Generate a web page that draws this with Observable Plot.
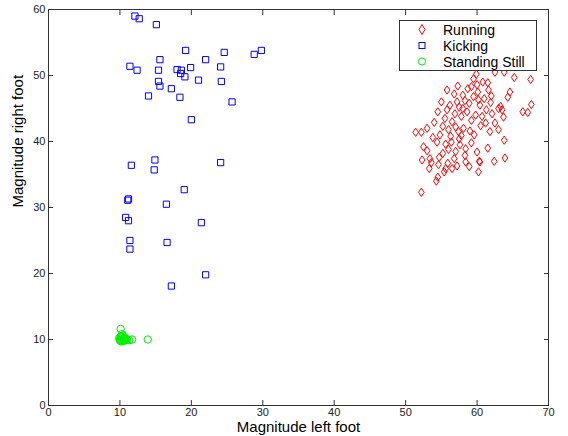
<!DOCTYPE html>
<html>
<head>
<meta charset="utf-8">
<script src="https://cdn.jsdelivr.net/npm/d3@7"></script>
<script src="https://cdn.jsdelivr.net/npm/@observablehq/plot@0.6"></script>
<style>
  html, body { margin: 0; padding: 0; background: #fff; }
  #wrap { position: relative; width: 568px; height: 436px; font-family: "Liberation Sans", Helvetica, Arial, sans-serif; }
  #legend { position: absolute; left: 399px; top: 20px; width: 138px; height: 51px; border: 1px solid #333; background: #fff; box-sizing: border-box; }
  #legend .row { position: absolute; left: 0; height: 16px; font-size: 14px; line-height: 16px; color: #000; white-space: nowrap; }
  #legend svg { position: absolute; left: 16px; top: 1.5px; }
  #legend span { position: absolute; left: 43px; top: 0; line-height: 16px; }
</style>
</head>
<body>
<div id="wrap"><div id="legend"></div></div>
<script>
const seriesNames = ["Running", "Kicking", "Standing Still"];
const seriesColors = ["#ff0000", "#0000ff", "#00ee00"];
const xTicks = [0, 10, 20, 30, 40, 50, 60, 70];
const yTicks = [0, 10, 20, 30, 40, 50, 60];
const xLabel = "Magnitude left foot";
const yLabel = "Magnitude right foot";

const runningX = [59.9,59.2,62.5,63.8,65.2,67.5,64.6,64.3,63.3,63.5,63.0,66.4,67.1,67.6,62.5,63.7,63.8,63.9,62.4,60.4,60.2,51.4,52.2,54.4,53.0,52.3,53.4,53.3,54.5,54.3,52.2,58.4,59.2,58.3,58.4,60.3,54.7,55.6,55.4,56.5,56.8,57.5,55.6,54.0,56.8,
  55.5,55.8,56.2,56.5,56.9,57.2,57.5,57.8,58.0,58.3,58.6,58.9,59.2,59.5,59.8,60.1,60.4,60.7,61.0,61.3,61.6,61.9,60.0,58.7,57.0,56.0,57.4,58.1,55.2,54.8,56.3,57.8,59.0,60.5,61.2,62.1,62.0,60.8,59.5,61.5,57.0,56.0,55.2,57.6,56.4,53.8,54.6,53.6,55.9,52.5,57.2,58.9,60.0,61.5,59.6,53.0,55.0,54.5,55.8,57.3,58.0,60.2,61.8,63.0];
const runningY = [50.2,48.3,50.5,50.5,49.7,49.4,47.5,46.7,45.3,44.8,45.0,44.5,44.4,45.6,42.8,43.7,40.2,37.5,37.0,36.9,35.4,41.4,41.4,39.9,38.6,37.2,37.4,35.9,34.6,34.0,32.3,38.9,39.8,37.9,36.9,37.0,37.6,35.9,35.4,35.9,37.4,40.4,39.6,42.9,47.2,
  43.5,44.8,45.5,43.0,44.2,46.0,45.2,43.8,47.0,46.2,44.5,45.8,43.2,46.8,44.0,47.5,45.5,43.8,46.5,44.8,47.8,45.9,48.6,48.0,42.2,41.8,41.5,42.0,42.3,41.0,40.8,40.9,41.6,42.4,42.8,44.2,46.9,49.0,49.5,48.9,38.5,38.8,38.2,39.5,39.9,40.6,36.5,36.8,36.7,39.2,36.3,36.2,38.4,39.0,41.0,42.0,46.0,44.5,47.8,48.4,45.0,46.3,41.5,41.8];

const kickingX = [12.1,12.7,15.1,19.2,24.6,28.8,29.8,15.6,22.0,11.4,12.4,15.4,18.0,18.6,19.9,24.1,18.5,19.1,15.4,21.0,24.2,15.6,17.2,14.0,18.4,25.7,20.0,
  11.6,14.9,14.8,24.1,19.0,11.1,11.2,16.5,10.8,11.2,21.4,11.4,11.4,16.6,22.0,17.2];
const kickingY = [59.0,58.6,57.7,53.8,53.5,53.2,53.8,52.4,52.4,51.4,50.8,50.8,50.9,50.8,51.2,51.3,50.3,49.8,49.1,49.3,49.1,48.4,48.0,46.9,46.7,46.0,43.3,
  36.4,37.2,35.7,36.8,32.7,31.1,31.3,30.5,28.5,28.0,27.7,25.0,23.7,24.7,19.8,18.1];

const standingX = [10.0,10.3,10.5,10.8,10.1,10.4,10.6,9.9,10.2,10.7,10.0,10.5,10.3,11.0,10.9,10.2,10.6,10.1,11.7,13.9,10.1,11.3];
const standingY = [10.0,9.9,10.1,10.0,10.4,10.6,9.8,10.2,9.7,10.3,9.9,10.0,10.8,9.9,10.1,10.5,10.0,9.8,10.0,10.0,11.6,9.9];

const running = runningX.map((x, i) => ({x, y: runningY[i]}));
const kicking = kickingX.map((x, i) => ({x, y: kickingY[i]}));
const standing = standingX.map((x, i) => ({x, y: standingY[i]}));

// narrow MATLAB-style diamond
const tallDiamond = {
  draw(context, size) {
    const r = Math.sqrt(size / Math.PI);
    const hh = r * 1.15, hw = r * 0.8;
    context.moveTo(0, -hh);
    context.lineTo(hw, 0);
    context.lineTo(0, hh);
    context.lineTo(-hw, 0);
    context.closePath();
  }
};

const chart = Plot.plot({
  width: 568,
  height: 436,
  marginLeft: 48,
  marginRight: 20,
  marginTop: 9,
  marginBottom: 31,
  style: {fontFamily: "'Liberation Sans', Helvetica, Arial, sans-serif", fontSize: "11px", color: "#222", background: "#fff"},
  x: {domain: [0, 70]},
  y: {domain: [0, 60]},
  marks: [
    Plot.axisX({ticks: xTicks, tickSize: -5, tickPadding: 8, label: null, stroke: "#333"}),
    Plot.axisX({ticks: xTicks, anchor: "top", tickSize: -5, tickFormat: () => "", label: null, stroke: "#333"}),
    Plot.axisY({ticks: yTicks, tickSize: -5, tickPadding: 8, label: null, stroke: "#333"}),
    Plot.axisY({ticks: yTicks, anchor: "right", tickSize: -5, tickFormat: () => "", label: null, stroke: "#333"}),
    Plot.frame({stroke: "#333"}),
    Plot.dot(running, {x: "x", y: "y", symbol: tallDiamond, r: 3.6, stroke: seriesColors[0], strokeWidth: 1}),
    Plot.dot(kicking, {x: "x", y: "y", symbol: "square", r: 3.5, stroke: seriesColors[1], strokeWidth: 1}),
    Plot.dot(standing, {x: "x", y: "y", symbol: "circle", r: 3.7, stroke: seriesColors[2], strokeWidth: 1}),
    Plot.text([xLabel], {frameAnchor: "bottom", dy: 22, fontSize: 15, fill: "#000", lineAnchor: "middle"}),
    Plot.text([yLabel], {frameAnchor: "left", dx: -30, rotate: -90, fontSize: 15, fill: "#000", lineAnchor: "middle"})
  ]
});

const wrap = document.getElementById("wrap");
wrap.insertBefore(chart, wrap.firstChild);

// legend
const legend = document.getElementById("legend");
const symbolsSvg = [
  c => `<path d="M6,1.5 L9,6.5 L6,11.5 L3,6.5 Z" fill="none" stroke="${c}" stroke-width="1"/>`,
  c => `<rect x="3" y="3.5" width="6" height="6" fill="none" stroke="${c}" stroke-width="1"/>`,
  c => `<circle cx="6" cy="6.5" r="3.6" fill="none" stroke="${c}" stroke-width="1"/>`
];
seriesNames.forEach((name, i) => {
  const row = document.createElement("div");
  row.className = "row";
  row.style.top = (0.5 + i * 16) + "px";
  row.innerHTML = `<svg width="12" height="13">${symbolsSvg[i](seriesColors[i])}</svg><span>${name}</span>`;
  legend.appendChild(row);
});
</script>
</body>
</html>
